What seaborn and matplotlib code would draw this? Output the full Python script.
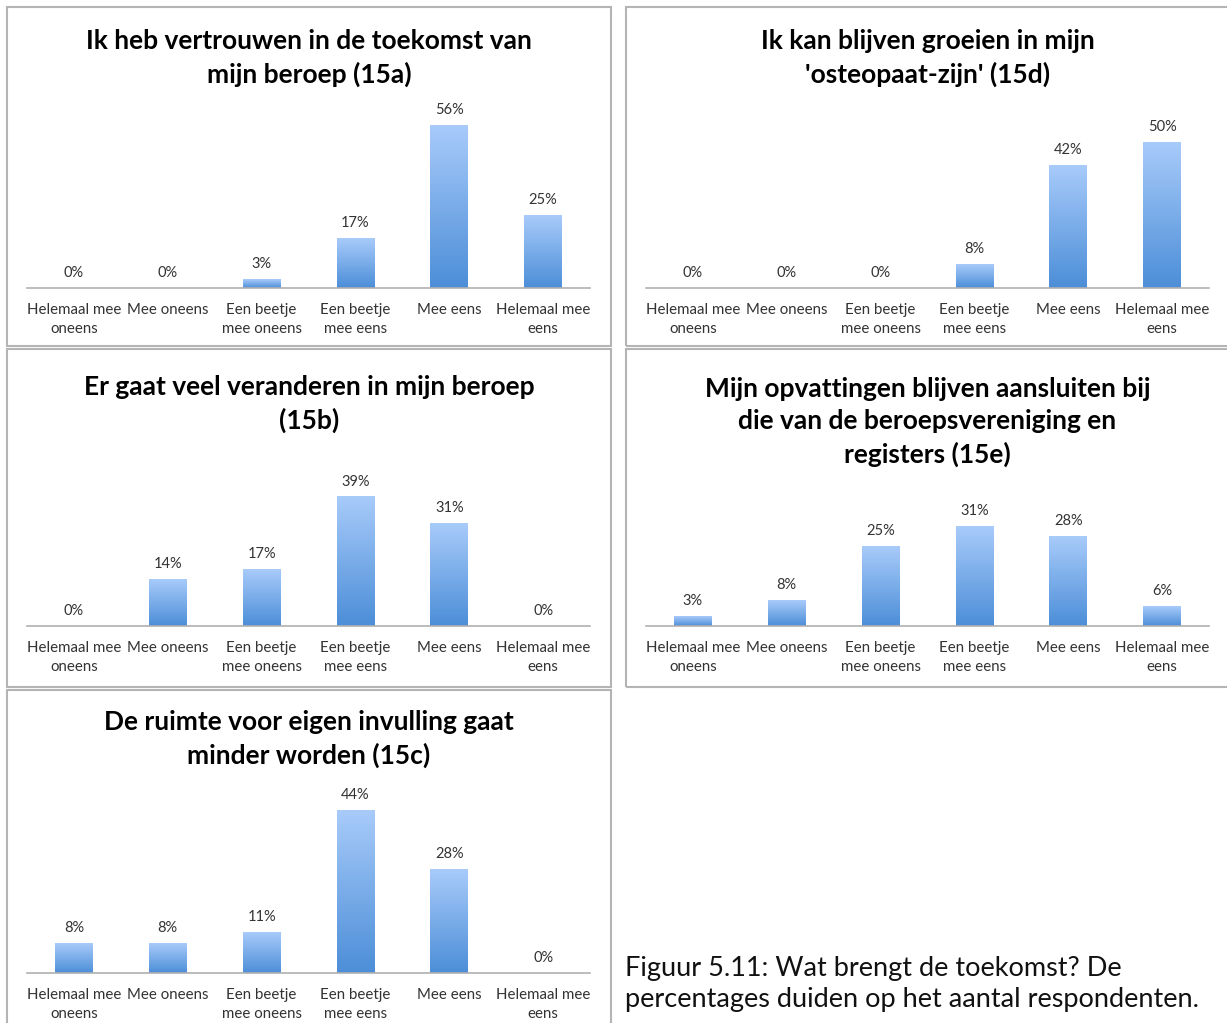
import numpy as np
import matplotlib
matplotlib.use("Agg")
import matplotlib.pyplot as plt
from matplotlib.colors import LinearSegmentedColormap
from matplotlib.patches import Rectangle
import seaborn as sns

# Data
categories = ["Helemaal mee\noneens", "Mee oneens", "Een beetje\nmee oneens",
              "Een beetje\nmee eens", "Mee eens", "Helemaal mee\neens"]
v15a = [0, 0, 3, 17, 56, 25]
v15b = [0, 14, 17, 39, 31, 0]
v15c = [8, 8, 11, 44, 28, 0]
v15d = [0, 0, 0, 8, 42, 50]
v15e = [3, 8, 25, 31, 28, 6]

t15a = "Ik heb vertrouwen in de toekomst van\nmijn beroep (15a)"
t15b = "Er gaat veel veranderen in mijn beroep\n(15b)"
t15c = "De ruimte voor eigen invulling gaat\nminder worden (15c)"
t15d = "Ik kan blijven groeien in mijn\n'osteopaat-zijn' (15d)"
t15e = "Mijn opvattingen blijven aansluiten bij\ndie van de beroepsvereniging en\nregisters (15e)"
caption = "Figuur 5.11: Wat brengt de toekomst? De\npercentages duiden op het aantal respondenten."

sns.set_theme(style="white")
plt.rcParams["font.family"] = ["Lato", "DejaVu Sans"]

W, H = 1227, 1023
fig = plt.figure(figsize=(W / 100, H / 100), dpi=100)
fig.patch.set_facecolor("white")

cmap = LinearSegmentedColormap.from_list("bar", ["#4c8ed8", "#a8cbfa"])
grad = np.linspace(0, 1, 256).reshape(-1, 1)


def px_rect(left, top, width, height):
    return [left / W, 1 - (top + height) / H, width / W, height / H]


# panel: (values, title, box(left, top, right, bottom), axis left, baseline y, axis height px, ymax, title center y)
panels = [
    (v15a, t15a, (7, 7, 611, 346), 27, 288, 174, 60, 58),
    (v15d, t15d, (626, 7, 1240, 346), 646, 288, 175, 60, 58),
    (v15b, t15b, (7, 349, 611, 687), 27, 626, 149, 45, 404),
    (v15e, t15e, (626, 349, 1240, 687), 646, 626, 112, 35, 422),
    (v15c, t15c, (7, 690, 611, 1040), 27, 973, 185, 50, 739),
]

for vals, title, box, axl, base, ah, ymax, ty in panels:
    bl, bt, br, bb = box
    fig.patches.append(Rectangle((bl / W, 1 - bb / H), (br - bl) / W, (bb - bt) / H,
                                 transform=fig.transFigure, fill=False,
                                 edgecolor="#b4b4b4", linewidth=1.5, zorder=0))
    ax = fig.add_axes(px_rect(axl, base - ah, 563, ah))
    ax.patch.set_alpha(0)
    sns.barplot(x=categories, y=vals, ax=ax, width=0.4, color="#7aaee9", saturation=1)
    for p in ax.patches:
        x0, w, h = p.get_x(), p.get_width(), p.get_height()
        if h > 0:
            ax.imshow(grad, extent=[x0, x0 + w, 0, h], aspect="auto", cmap=cmap,
                      origin="lower", zorder=2)
        p.set_facecolor("none")
        p.set_edgecolor("none")
    ax.bar_label(ax.containers[0], labels=[f"{v}%" for v in vals], padding=6,
                 fontsize=10.5, color="#333333")
    ax.set_xlim(-0.5, 5.5)
    ax.set_ylim(0, ymax)
    ax.set_yticks([])
    ax.set_xlabel("")
    ax.set_ylabel("")
    for s in ["top", "left", "right"]:
        ax.spines[s].set_visible(False)
    ax.spines["bottom"].set_color("#b0b0b0")
    ax.spines["bottom"].set_linewidth(1.2)
    ax.tick_params(axis="x", length=0, pad=11, labelsize=10.8, labelcolor="#333333")
    for lab in ax.get_xticklabels():
        lab.set_linespacing(1.45)
    cx = (bl + br) / 2 if br <= 1227 else (bl + 1229) / 2
    fig.text(cx / W, 1 - ty / H, title, ha="center", va="center", fontsize=19,
             fontweight="bold", color="black", linespacing=1.42)

fig.text(625 / W, 1 - 956 / H, caption, ha="left", va="top", fontsize=19.5,
         color="#111111", linespacing=1.3)

fig.savefig("out.png", dpi=100, facecolor="white")
